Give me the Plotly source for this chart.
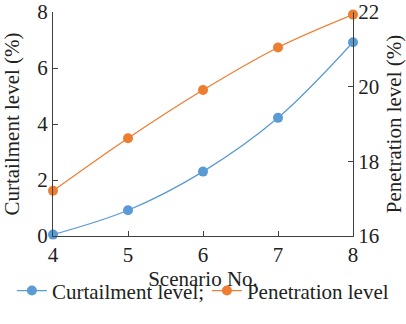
import plotly.graph_objects as go

scenarios = [4, 5, 6, 7, 8]
curtailment = [0.05, 0.92, 2.3, 4.22, 6.92]
penetration = [17.21, 18.62, 19.91, 21.05, 21.93]

AX = "#404040"
TXT = "#222222"
FAM = "Liberation Serif"
F = dict(family=FAM, size=21, color=TXT)

fig = go.Figure()
fig.add_trace(go.Scatter(
    x=scenarios, y=curtailment, name="Curtailment level;", legend="legend",
    mode="lines+markers", line=dict(color="#5b9bd5", width=1.3, shape="spline"),
    marker=dict(size=10, color="#5b9bd5"), cliponaxis=False))
fig.add_trace(go.Scatter(
    x=scenarios, y=penetration, name="Penetration level", yaxis="y2", legend="legend2",
    mode="lines+markers", line=dict(color="#ed7d31", width=1.3, shape="spline"),
    marker=dict(size=10, color="#ed7d31"), cliponaxis=False))

leg_common = dict(orientation="h", xref="paper", yref="paper", y=-0.245, yanchor="middle",
                  xanchor="left", font=F, itemwidth=30, bgcolor="rgba(0,0,0,0)")

fig.update_layout(
    width=406, height=324,
    margin=dict(l=53, r=53, t=12, b=76),
    paper_bgcolor="white", plot_bgcolor="white",
    font=F,
    showlegend=True,
    legend=dict(x=-0.137, **leg_common),
    legend2=dict(x=0.513, **leg_common),
    xaxis=dict(range=[4, 8], tickvals=[4, 5, 6, 7, 8], showline=True, linecolor=AX,
               linewidth=1.2, ticks="inside", ticklen=5, tickcolor=AX, showgrid=False,
               zeroline=False, tickfont=F, automargin=True,
               title=dict(text="Scenario No.", standoff=3, font=F)),
    yaxis=dict(range=[0, 8], tickvals=[0, 2, 4, 6, 8], showline=True, linecolor=AX,
               linewidth=1.2, ticks="inside", ticklen=5, tickcolor=AX, showgrid=False,
               zeroline=False, tickfont=F, automargin=False,
               title=dict(text="Curtailment level (%)", font=F)),
    yaxis2=dict(range=[16, 22], tickvals=[16, 18, 20, 22], overlaying="y", side="right",
                showline=True, linecolor=AX, linewidth=1.2, ticks="inside", ticklen=5,
                tickcolor=AX, showgrid=False, zeroline=False, tickfont=F, automargin=False,
                title=dict(text="Penetration level (%)", font=F)),
)

fig.write_html("out.html")
